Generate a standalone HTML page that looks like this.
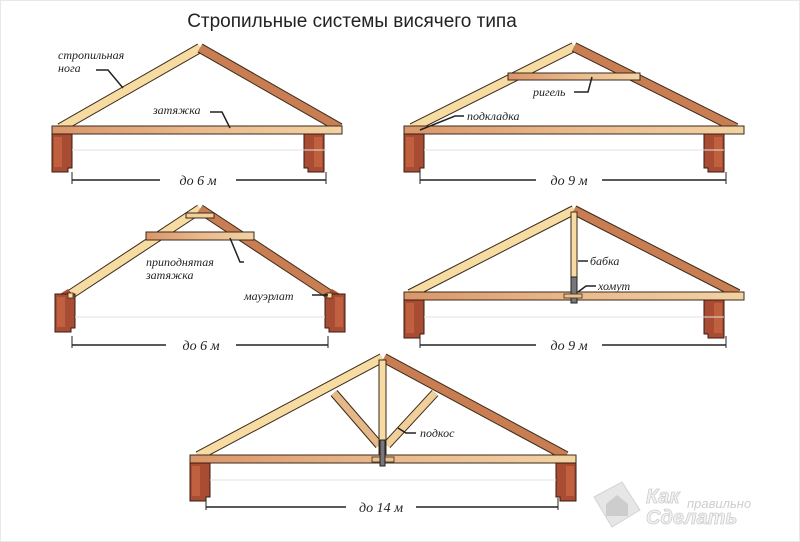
<!DOCTYPE html>
<html><head><meta charset="utf-8"><style>
html,body{margin:0;padding:0;background:#fff;}
svg{display:block}
.lbl{font-family:"Liberation Serif",serif;font-style:italic;font-size:12px;fill:#222}
.dim{font-family:"Liberation Serif",serif;font-style:italic;font-size:14px;fill:#222}
</style></head><body>
<svg width="800" height="542" viewBox="0 0 800 542" xmlns="http://www.w3.org/2000/svg">
<defs>
<linearGradient id="tie" x1="0" x2="1" y1="0" y2="0">
<stop offset="0" stop-color="#d9966a"/><stop offset="0.5" stop-color="#e9b98c"/><stop offset="1" stop-color="#f2d3a4"/>
</linearGradient>
<g id="wallL"><path d="M0 0 H20 V34 H16 V38 H0 Z" fill="#a84c34" stroke="#3a1a10" stroke-width="1"/><rect x="2" y="3" width="8" height="30" fill="#c0603f"/></g>
</defs>
<rect width="800" height="542" fill="#fff"/>
<text x="352" y="27" text-anchor="middle" font-family="Liberation Sans,sans-serif" font-size="19" fill="#222">Стропильные системы висячего типа</text>

<!-- Truss 1 -->
<g stroke-linecap="butt">
<line x1="60" y1="128" x2="200" y2="48" stroke="#3a2a1a" stroke-width="10"/>
<line x1="60" y1="128" x2="200" y2="48" stroke="#f6dca2" stroke-width="8"/>
<line x1="340" y1="128" x2="200" y2="48" stroke="#3a2a1a" stroke-width="10"/>
<line x1="340" y1="128" x2="200" y2="48" stroke="#c87e52" stroke-width="8"/>
<rect x="52" y="126" width="290" height="8" fill="url(#tie)" stroke="#3a2a1a"/>
<use href="#wallL" x="52" y="134"/>
<use href="#wallL" x="344" y="134" transform="translate(668 0) scale(-1 1)"/>
<line x1="72" y1="150" x2="326" y2="150" stroke="#e2e2e2"/>
<line x1="72" y1="180" x2="160" y2="180" stroke="#222" stroke-width="1.5"/>
<line x1="236" y1="180" x2="326" y2="180" stroke="#222" stroke-width="1.5"/>
<line x1="72" y1="172" x2="72" y2="184" stroke="#222"/><line x1="326" y1="172" x2="326" y2="184" stroke="#222"/>
<text class="dim" x="198" y="185" text-anchor="middle">до 6 м</text>
<text class="lbl" x="58" y="59">стропильная</text><text class="lbl" x="58" y="72">нога</text>
<path d="M96 70 H108 L123 88" fill="none" stroke="#222" stroke-width="1.5"/>
<text class="lbl" x="153" y="114">затяжка</text>
<path d="M210 112 H222 L230 128" fill="none" stroke="#222" stroke-width="1.5"/>
</g>

<!-- Truss 2 -->
<g>
<line x1="412" y1="128" x2="574" y2="47" stroke="#3a2a1a" stroke-width="10"/>
<line x1="412" y1="128" x2="574" y2="47" stroke="#f6dca2" stroke-width="8"/>
<line x1="736" y1="128" x2="574" y2="47" stroke="#3a2a1a" stroke-width="10"/>
<line x1="736" y1="128" x2="574" y2="47" stroke="#c87e52" stroke-width="8"/>
<rect x="508" y="73" width="132" height="7" fill="url(#tie)" stroke="#3a2a1a"/>
<rect x="404" y="126" width="340" height="8" fill="url(#tie)" stroke="#3a2a1a"/>
<use href="#wallL" x="404" y="134"/>
<use href="#wallL" x="744" y="134" transform="translate(1468 0) scale(-1 1)"/>
<line x1="424" y1="150" x2="724" y2="150" stroke="#e2e2e2"/>
<line x1="420" y1="180" x2="536" y2="180" stroke="#222" stroke-width="1.5"/>
<line x1="602" y1="180" x2="726" y2="180" stroke="#222" stroke-width="1.5"/>
<line x1="420" y1="172" x2="420" y2="184" stroke="#222"/><line x1="726" y1="172" x2="726" y2="184" stroke="#222"/>
<text class="dim" x="569" y="185" text-anchor="middle">до 9 м</text>
<text class="lbl" x="533" y="96">ригель</text>
<path d="M574 92 H588 L592 77" fill="none" stroke="#222" stroke-width="1.5"/>
<text class="lbl" x="467" y="120">подкладка</text>
<path d="M464 116 H455 L420 130" fill="none" stroke="#222" stroke-width="1.5"/>
</g>

<!-- Truss 3 -->
<g>
<line x1="68" y1="296" x2="200" y2="209" stroke="#3a2a1a" stroke-width="10"/>
<line x1="68" y1="296" x2="200" y2="209" stroke="#f6dca2" stroke-width="8"/>
<line x1="332" y1="296" x2="200" y2="209" stroke="#3a2a1a" stroke-width="10"/>
<line x1="332" y1="296" x2="200" y2="209" stroke="#c87e52" stroke-width="8"/>
<rect x="186" y="213" width="28" height="5" fill="#f2cf9c" stroke="#3a2a1a"/>
<rect x="146" y="232" width="108" height="8" fill="url(#tie)" stroke="#3a2a1a"/>
<path d="M55 297 L68 289 L75 297 Z" fill="#a84c34"/><path d="M345 297 L332 289 L325 297 Z" fill="#a84c34"/>
<use href="#wallL" x="55" y="294"/>
<use href="#wallL" x="345" y="294" transform="translate(690 0) scale(-1 1)"/>
<rect x="68" y="293" width="5" height="5" fill="#f6dca2" stroke="#3a2a1a" stroke-width=".8"/>
<rect x="327" y="293" width="5" height="5" fill="#f6dca2" stroke="#3a2a1a" stroke-width=".8"/>
<line x1="75" y1="317" x2="325" y2="317" stroke="#e2e2e2"/>
<line x1="72" y1="345" x2="166" y2="345" stroke="#222" stroke-width="1.5"/>
<line x1="236" y1="345" x2="328" y2="345" stroke="#222" stroke-width="1.5"/>
<line x1="72" y1="336" x2="72" y2="348" stroke="#222"/><line x1="328" y1="336" x2="328" y2="348" stroke="#222"/>
<text class="dim" x="201" y="350" text-anchor="middle">до 6 м</text>
<text class="lbl" x="146" y="266">приподнятая</text><text class="lbl" x="146" y="279">затяжка</text>
<path d="M230 238 L240 262 H244" fill="none" stroke="#222" stroke-width="1.5"/>
<text class="lbl" x="244" y="300">мауэрлат</text>
<line x1="312" y1="295" x2="328" y2="295" stroke="#222" stroke-width="1.5"/>
</g>

<!-- Truss 4 -->
<g>
<line x1="410" y1="294" x2="574" y2="210" stroke="#3a2a1a" stroke-width="10"/>
<line x1="410" y1="294" x2="574" y2="210" stroke="#f6dca2" stroke-width="8"/>
<line x1="738" y1="294" x2="574" y2="210" stroke="#3a2a1a" stroke-width="10"/>
<line x1="738" y1="294" x2="574" y2="210" stroke="#c87e52" stroke-width="8"/>
<rect x="404" y="292" width="340" height="8" fill="url(#tie)" stroke="#3a2a1a"/>
<rect x="571" y="212" width="6" height="80" fill="#f6dca2" stroke="#3a2a1a"/>
<rect x="571" y="277" width="6" height="26" fill="#777" stroke="#222"/>
<rect x="564" y="294" width="18" height="4" fill="#e9c08f" stroke="#3a2a1a" stroke-width=".8"/>
<use href="#wallL" x="404" y="300"/>
<use href="#wallL" x="744" y="300" transform="translate(1468 0) scale(-1 1)"/>
<line x1="424" y1="317" x2="724" y2="317" stroke="#e2e2e2"/>
<line x1="420" y1="345" x2="536" y2="345" stroke="#222" stroke-width="1.5"/>
<line x1="602" y1="345" x2="726" y2="345" stroke="#222" stroke-width="1.5"/>
<line x1="420" y1="336" x2="420" y2="348" stroke="#222"/><line x1="726" y1="336" x2="726" y2="348" stroke="#222"/>
<text class="dim" x="569" y="350" text-anchor="middle">до 9 м</text>
<text class="lbl" x="590" y="265">бабка</text>
<line x1="578" y1="261" x2="588" y2="261" stroke="#222" stroke-width="1.5"/>
<text class="lbl" x="598" y="290">хомут</text>
<path d="M578 292 L586 286 H596" fill="none" stroke="#222" stroke-width="1.5"/>
</g>

<!-- Truss 5 -->
<g>
<line x1="198" y1="456" x2="382" y2="358" stroke="#3a2a1a" stroke-width="10"/>
<line x1="198" y1="456" x2="382" y2="358" stroke="#f6dca2" stroke-width="8"/>
<line x1="566" y1="456" x2="384" y2="358" stroke="#3a2a1a" stroke-width="10"/>
<line x1="566" y1="456" x2="384" y2="358" stroke="#c87e52" stroke-width="8"/>
<line x1="334" y1="393" x2="379" y2="445" stroke="#3a2a1a" stroke-width="9"/>
<line x1="334" y1="393" x2="379" y2="445" stroke="#e6b888" stroke-width="7"/>
<line x1="435" y1="393" x2="387" y2="445" stroke="#3a2a1a" stroke-width="9"/>
<line x1="435" y1="393" x2="387" y2="445" stroke="#f0cf9a" stroke-width="7"/>
<rect x="379" y="360" width="7" height="96" fill="#f6dca2" stroke="#3a2a1a"/>
<rect x="190" y="455" width="386" height="8" fill="url(#tie)" stroke="#3a2a1a"/>
<rect x="372" y="457" width="22" height="5" fill="#e9c08f" stroke="#3a2a1a" stroke-width=".8"/>
<rect x="380" y="440" width="5" height="26" fill="#777" stroke="#222"/>
<use href="#wallL" x="190" y="463"/>
<use href="#wallL" x="576" y="463" transform="translate(1152 0) scale(-1 1)"/>
<line x1="210" y1="480" x2="556" y2="480" stroke="#e2e2e2"/>
<line x1="206" y1="507" x2="346" y2="507" stroke="#222" stroke-width="1.5"/>
<line x1="416" y1="507" x2="558" y2="507" stroke="#222" stroke-width="1.5"/>
<line x1="206" y1="498" x2="206" y2="510" stroke="#222"/><line x1="558" y1="498" x2="558" y2="510" stroke="#222"/>
<text class="dim" x="381" y="512" text-anchor="middle">до 14 м</text>
<text class="lbl" x="420" y="437">подкос</text>
<path d="M398 428 L406 433 H416" fill="none" stroke="#222" stroke-width="1.5"/>
</g>

<!-- watermark -->
<g opacity="0.9">
<path d="M594 497 L622 482 L640 510 L612 527 Z" fill="#e4e4e4" stroke="#cfcfcf"/>
<path d="M606 504 L617 495 L628 504 V516 H606 Z" fill="#c8c8c8"/>
<text x="646" y="503" font-family="Liberation Sans,sans-serif" font-style="italic" font-weight="bold" font-size="20" fill="#f2f2f2" stroke="#c8c8c8" stroke-width=".8">Как</text>
<text x="687" y="508" font-family="Liberation Sans,sans-serif" font-style="italic" font-size="13" fill="#c8c8c8">правильно</text>
<text x="646" y="524" font-family="Liberation Sans,sans-serif" font-style="italic" font-weight="bold" font-size="20" fill="#f2f2f2" stroke="#c8c8c8" stroke-width=".8">Сделать</text>
</g>
<rect x="0.5" y="0.5" width="799" height="541" fill="none" stroke="#e8e8e8"/>
</svg>
</body></html>
